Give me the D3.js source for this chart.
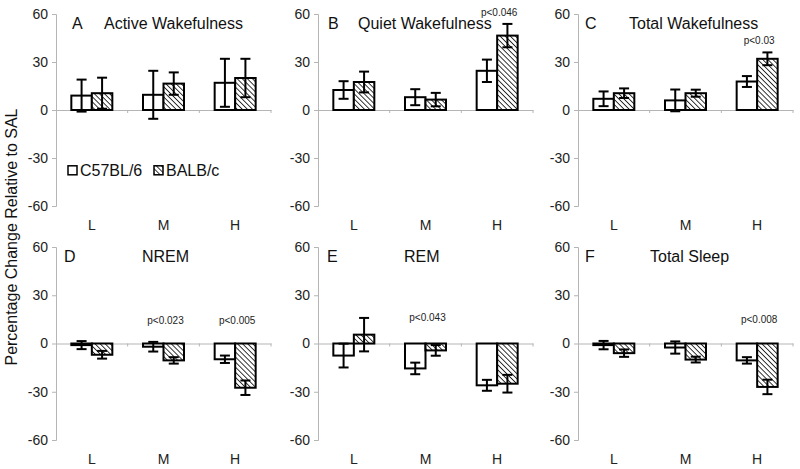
<!DOCTYPE html>
<html><head><meta charset="utf-8">
<script src="https://cdn.jsdelivr.net/npm/d3@7"></script>
<style>body{margin:0;background:#fff}svg{display:block;font-family:"Liberation Sans",Arial,sans-serif}</style>
</head><body><svg id="c" width="800" height="469"></svg>
<script>
const categories = ["L", "M", "H"];
const series = ["C57BL/6", "BALB/c"];
const yTicks = [60, 30, 0, -30, -60];
const panelLetters = ["A", "B", "C", "D", "E", "F"];
const panelNames = ["Active Wakefulness", "Quiet Wakefulness", "Total Wakefulness", "NREM", "REM", "Total Sleep"];
// means [C57BL/6 per category, BALB/c per category]
const meansC57 = [[9, 9.5, 17], [12.5, 8, 24.5], [7, 6, 17.8], [-1, -2, -9.8], [-7.5, -15.5, -26], [-1, -2.5, -10.5]];
const meansBALB = [[10.5, 16.5, 20], [17.5, 6.5, 46.5], [10.5, 10.5, 32], [-7, -10.5, -27.5], [5.5, -4.3, -25], [-6, -10, -27]];
const errC57 = [[10, 15, 15], [5.5, 5, 7], [4.6, 6.8, 3.4], [2.5, 3, 2.3], [7.4, 3.6, 3.4], [2.6, 3.8, 2]];
const errBALB = [[9.7, 7, 12], [6.5, 4.2, 7.3], [3, 2.2, 4], [2.4, 2, 4.5], [10.4, 3.3, 5.5], [2.3, 1.8, 4.5]];
// significance labels: [panel, category, text, y value]
const pLabels = [[1, "H", "p<0.046", 61], [2, "H", "p<0.03", 44], [3, "M", "p<0.023", 14.5], [3, "H", "p<0.005", 14.5], [4, "M", "p<0.043", 16.5], [5, "H", "p<0.008", 15]];

// layout
const colX = [56, 318, 578];
const rowY = [[14, 206], [247, 440]];
const plotW = 215;
const titleOff = [[16, 48], [10, 40], [7, 51], [8, 86], [9, 86], [7, 72]];

const svg = d3.select("#c");
const defs = svg.append("defs");
const pat = defs.append("pattern").attr("id", "hatch").attr("patternUnits", "userSpaceOnUse")
  .attr("width", 3.6).attr("height", 3.6).attr("patternTransform", "rotate(-45)");
pat.append("rect").attr("width", 3.6).attr("height", 3.6).attr("fill", "#fff");
pat.append("line").attr("x1", 0).attr("y1", 0).attr("x2", 0).attr("y2", 3.6).attr("stroke", "#222").attr("stroke-width", 1.8);

panelNames.forEach((name, i) => {
  const x0 = colX[i % 3];
  const [yt, yb] = rowY[Math.floor(i / 3)];
  const g = svg.append("g");
  const y = d3.scaleLinear().domain([-60, 60]).range([yb, yt]);
  const x = d3.scaleBand().domain(categories).range([x0, x0 + plotW]).paddingInner(0).paddingOuter(0);
  const xs = d3.scaleBand().domain(series).range([0, 41]);

  // y axis
  const ya = g.append("g").attr("transform", `translate(${x0},0)`)
    .call(d3.axisLeft(y).tickValues(yTicks).tickSize(4).tickPadding(4).tickFormat(d => String(d)));
  ya.select(".domain").attr("stroke", "#b5b5b5");
  ya.selectAll(".tick line").attr("stroke", "#b5b5b5");
  ya.selectAll(".tick text").attr("font-size", 14).attr("fill", "#222").attr("font-family", "Liberation Sans, Arial, sans-serif");

  // zero axis
  const xa = g.append("g").attr("transform", `translate(0,${y(0)})`)
    .call(d3.axisBottom(x).tickSize(0).tickFormat(""));
  xa.select(".domain").attr("stroke", "#b5b5b5");
  const bounds = categories.map(c => x(c) + x.bandwidth());
  g.selectAll(".mt").data(bounds).enter().append("line")
    .attr("x1", d => d).attr("x2", d => d).attr("y1", y(0)).attr("y2", y(0) + 3).attr("stroke", "#b5b5b5");

  // category labels
  g.selectAll(".cl").data(categories).enter().append("text")
    .attr("x", d => x(d) + x.bandwidth() / 2).attr("y", yb + 24).attr("text-anchor", "middle")
    .attr("font-size", 14).attr("fill", "#222").text(d => d);

  // bars
  const rows = [];
  categories.forEach((c, k) => {
    rows.push({ c, s: series[0], v: meansC57[i][k], e: errC57[i][k] });
    rows.push({ c, s: series[1], v: meansBALB[i][k], e: errBALB[i][k] });
  });
  const bx = d => x(d.c) + (x.bandwidth() - 41) / 2 + xs(d.s);
  g.selectAll(".bar").data(rows).enter().append("rect")
    .attr("x", bx).attr("width", xs.bandwidth())
    .attr("y", d => y(Math.max(0, d.v))).attr("height", d => Math.abs(y(d.v) - y(0)))
    .attr("fill", d => d.s === series[0] ? "#fff" : "url(#hatch)")
    .attr("stroke", "#000").attr("stroke-width", 2);

  // error bars
  const cx = d => bx(d) + xs.bandwidth() / 2;
  const eg = g.selectAll(".err").data(rows).enter().append("g").attr("stroke", "#000").attr("stroke-width", 2);
  eg.append("line").attr("x1", cx).attr("x2", cx).attr("y1", d => y(d.v + d.e)).attr("y2", d => y(d.v - d.e));
  eg.append("line").attr("x1", d => cx(d) - 5).attr("x2", d => cx(d) + 5).attr("y1", d => y(d.v + d.e)).attr("y2", d => y(d.v + d.e));
  eg.append("line").attr("x1", d => cx(d) - 5).attr("x2", d => cx(d) + 5).attr("y1", d => y(d.v - d.e)).attr("y2", d => y(d.v - d.e));

  // title
  g.append("text").attr("x", x0 + titleOff[i][0]).attr("y", yt + 15).attr("font-size", 16).attr("fill", "#111").text(panelLetters[i]);
  g.append("text").attr("x", x0 + titleOff[i][1]).attr("y", yt + 15).attr("font-size", 16).attr("fill", "#111").text(name);

  // p labels
  pLabels.filter(p => p[0] === i).forEach(p => {
    g.append("text").attr("x", x(p[1]) + x.bandwidth() / 2 + 2).attr("y", y(p[3]) + 4)
      .attr("text-anchor", "middle").attr("font-size", 10).attr("fill", "#222").text(p[2]);
  });

  // legend in panel A
  if (i === 0) {
    const ly = y(-38);
    const items = [{ s: series[0], x: x0 + 12 }, { s: series[1], x: x0 + 98 }];
    items.forEach(it => {
      g.append("rect").attr("x", it.x).attr("y", ly - 5).attr("width", 9).attr("height", 9)
        .attr("fill", it.s === series[0] ? "#fff" : "url(#hatch)").attr("stroke", "#000").attr("stroke-width", 1.5);
      g.append("text").attr("x", it.x + 12).attr("y", ly + 5.5).attr("font-size", 16).attr("fill", "#111").text(it.s);
    });
  }
});

svg.append("text").attr("transform", "translate(17,237) rotate(-90)").attr("text-anchor", "middle")
  .attr("font-size", 16).attr("fill", "#111").text("Percentage Change Relative to SAL");
</script></body></html>
